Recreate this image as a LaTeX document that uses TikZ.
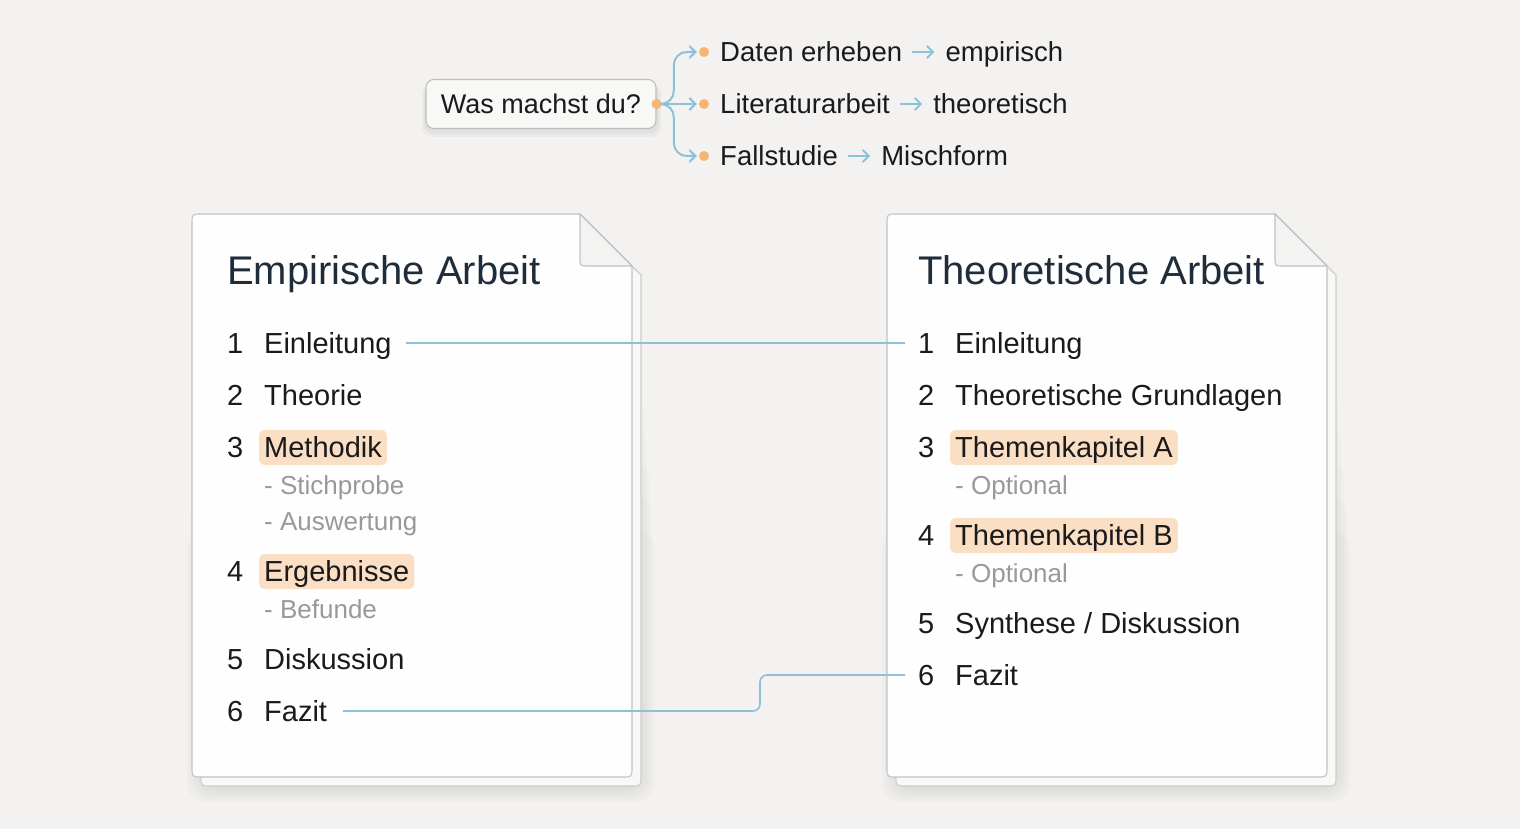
\documentclass[tikz,border=0pt]{standalone}
\usepackage{fontspec}
\setmainfont{Liberation Sans}
\usetikzlibrary{arrows.meta,calc}
\definecolor{bgc}{HTML}{F3F2F0}
\definecolor{ink}{HTML}{1A1A1A}
\definecolor{titleink}{HTML}{1F2C3A}
\definecolor{subink}{HTML}{999999}
\definecolor{edgec}{HTML}{C2C2C2}
\definecolor{backedge}{HTML}{CDCDCB}
\definecolor{backfill}{HTML}{F8F8F6}
\definecolor{foldfill}{HTML}{F3F3F2}
\definecolor{pagefill}{HTML}{FEFEFE}
\definecolor{hlc}{HTML}{FADFC5}
\definecolor{linkc}{HTML}{8DC0DB}
\definecolor{dotc}{HTML}{F6B56E}
\definecolor{boxedge}{HTML}{BEBEBE}
\definecolor{boxfill}{HTML}{F8F8F7}
\tikzset{
  docpage/.pic={
    \foreach \e in {2,5,8,11,14}{
      \fill[black,opacity=0.016,rounded corners=18pt] (9-\e,150+12*\e) rectangle (449+\e,574+\e);
    }
    \filldraw[fill=backfill,draw=backedge,line width=1.1pt]
      (19,9) -- (397,9) -- (449,61) -- (449,562) .. controls (449,572) .. (439,572)
      -- (19,572) .. controls (9,572) .. (9,562) -- (9,19) .. controls (9,9) .. (19,9) -- cycle;
    \filldraw[fill=pagefill,draw=edgec,line width=1.1pt]
      (10,0) -- (388,0) -- (440,52) -- (440,553) .. controls (440,563) .. (430,563)
      -- (10,563) .. controls (0,563) .. (0,553) -- (0,10) .. controls (0,0) .. (10,0) -- cycle;
    \filldraw[fill=foldfill,draw=edgec,line width=1.1pt,line join=round]
      (388,0) -- (388,44) .. controls (388,52) .. (396,52) -- (440,52) -- cycle;
  }
}
\begin{document}
\begin{tikzpicture}[x=1pt,y=-1pt,
  num/.style={anchor=base west, inner sep=0pt, text height=20pt, text depth=0pt,
              font=\fontsize{29}{34}\selectfont, text=ink},
  hl/.style={num, fill=hlc, rounded corners=5pt, inner xsep=5pt, inner ysep=3pt,
             text height=24pt, text depth=5pt},
  sub/.style={anchor=base west, inner sep=0pt, font=\fontsize{26}{30}\selectfont, text=subink},
  ttl/.style={anchor=base west, inner sep=0pt, font=\fontsize{40}{46}\selectfont, text=titleink},
  top/.style={anchor=base west, inner sep=0pt, text height=20pt, text depth=0pt,
              font=\fontsize{27.5}{32}\selectfont, text=ink},
  dot/.style={circle, fill=dotc, inner sep=0pt, minimum size=10pt},
  branch/.style={draw=linkc, line width=2pt, -{Straight Barb[length=6pt,width=12pt,line width=2pt]}, shorten >=2pt},
  inarrow/.style={draw=linkc, line width=2pt, -{Straight Barb[length=6pt,width=12pt,line width=2pt]}},
  link/.style={draw=linkc, line width=1.6pt},
]
\fill[bgc] (0,0) rectangle (1520,829);
\useasboundingbox (0,0) rectangle (1520,829);

% ---------- top decision ----------
\fill[black,opacity=0.035,rounded corners=10pt] (424,84) rectangle (659,134);
\fill[black,opacity=0.03,rounded corners=10pt] (422,84) rectangle (661,137);
\node[draw=boxedge, fill=boxfill, line width=1.1pt, rounded corners=8pt, minimum width=230pt,
      minimum height=49pt, inner sep=0pt, font=\fontsize{27}{32}\selectfont, text=ink]
      (q) at (541,104) {Was machst du?};
\node[dot] (qd) at (q.east) {};
\node[dot] (d1) at (704,52) {};
\node[dot] (d2) at (704,104) {};
\node[dot] (d3) at (704,156) {};
\draw[branch] (qd) -- (d2);
\draw[branch, rounded corners=13pt] (qd.east) -| ($(d1.west)+(-25,0)$) -- (d1.west);
\draw[branch, rounded corners=13pt] (qd.east) -| ($(d3.west)+(-25,0)$) -- (d3.west);

\node[top] (a1) at (720,62) {Daten erheben};
\node[top] (b1) at ($(a1.base east)+(43,0)$) {empirisch};
\node[top] (a2) at (720,114) {Literaturarbeit};
\node[top] (b2) at ($(a2.base east)+(43,0)$) {theoretisch};
\node[top] (a3) at (720,166) {Fallstudie};
\node[top] (b3) at ($(a3.base east)+(43,0)$) {Mischform};
\draw[inarrow] ([xshift=10pt]a1.east) -- ([xshift=-11pt]b1.west);
\draw[inarrow] ([xshift=10pt]a2.east) -- ([xshift=-11pt]b2.west);
\draw[inarrow] ([xshift=10pt]a3.east) -- ([xshift=-11pt]b3.west);

% ---------- pages ----------
\pic at (192,214) {docpage};
\pic at (887,214) {docpage};

% left page
\node[ttl] (lt) at (227,284) {Empirische Arbeit};
\node[num] (ln1) at (227,353) {1};  \node[num] (le1) at (264,353) {Einleitung};
\node[num] (ln2) at (227,405) {2};  \node[num] (le2) at (264,405) {Theorie};
\node[num] (ln3) at (227,457) {3};  \node[hl]  (le3) at (259,457) {Methodik};
\node[sub] (ls1) at (264,494) {- Stichprobe};
\node[sub] (ls2) at (264,530) {- Auswertung};
\node[num] (ln4) at (227,581) {4};  \node[hl]  (le4) at (259,581) {Ergebnisse};
\node[sub] (ls3) at (264,618) {- Befunde};
\node[num] (ln5) at (227,669) {5};  \node[num] (le5) at (264,669) {Diskussion};
\node[num] (ln6) at (227,721) {6};  \node[num] (le6) at (264,721) {Fazit};

% right page
\node[ttl] (rt) at (918,284) {Theoretische Arbeit};
\node[num] (rn1) at (918,353) {1};  \node[num] (re1) at (955,353) {Einleitung};
\node[num] (rn2) at (918,405) {2};  \node[num] (re2) at (955,405) {Theoretische Grundlagen};
\node[num] (rn3) at (918,457) {3};  \node[hl]  (re3) at (950,457) {Themenkapitel A};
\node[sub] (rs1) at (955,494) {- Optional};
\node[num] (rn4) at (918,545) {4};  \node[hl]  (re4) at (950,545) {Themenkapitel B};
\node[sub] (rs2) at (955,582) {- Optional};
\node[num] (rn5) at (918,633) {5};  \node[num] (re5) at (955,633) {Synthese / Diskussion};
\node[num] (rn6) at (918,685) {6};  \node[num] (re6) at (955,685) {Fazit};

% connectors
\draw[link] ([xshift=14pt]le1.east) -- ([xshift=-13pt]rn1.west);
\draw[link, rounded corners=7pt] ([xshift=16pt]le6.east) -| ([xshift=-158pt]rn6.west) -- ([xshift=-13pt]rn6.west);
\end{tikzpicture}
\end{document}
